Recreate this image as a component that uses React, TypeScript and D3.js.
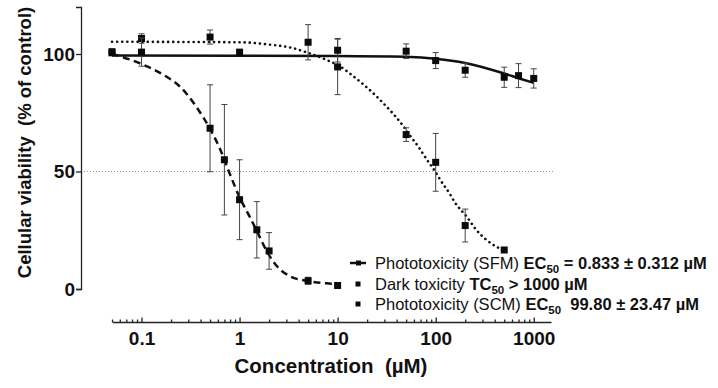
import { useEffect, useRef } from "react";
import * as d3 from "d3";

// measured points (mean ± SD)
const sfmConc = [0.05, 0.5, 0.7, 1, 1.5, 2, 5, 10];
const sfmMean = [101, 68.4, 55, 38, 25.2, 16.2, 3.5, 1.5];
const sfmSd = [0, 18.5, 23.5, 17, 12, 7.8, 1.5, 1];

const darkConc = [0.05, 0.1, 1, 10, 50, 100, 200, 500, 700, 1000];
const darkMean = [100.5, 100.8, 100.8, 101.6, 101.2, 97.2, 93.1, 90.1, 90.8, 89.6];
const darkSd = [0, 6, 0, 5, 3.1, 3.4, 3, 4.3, 5.1, 4.1];

const scmConc = [0.1, 0.5, 5, 10, 50, 100, 200, 500];
const scmMean = [106.6, 107.2, 105, 94.5, 65.7, 53.9, 27, 16.6];
const scmSd = [2, 3, 7.5, 11.8, 2.9, 12.3, 7, 0.5];

// fitted curves
const sfmFitConc = [0.05, 0.103, 0.165, 0.254, 0.36, 0.494, 0.625, 0.79, 1, 1.26, 1.54, 1.87, 2.37, 3.24, 4.79, 7.7, 10];
const sfmFitVal = [100.1, 95.5, 91.3, 85.6, 77.7, 68.5, 60, 49.3, 39, 31, 23.7, 16.5, 10, 5.5, 3.5, 2.4, 2.1];

const darkFitConc = [0.05, 1, 10, 50, 100, 200, 500, 700, 1000];
const darkFitVal = [99.4, 99.3, 99.2, 98.8, 98, 96.2, 91.7, 89.7, 87.7];

const scmFitConc = [0.05, 1, 2, 3.5, 5, 8.3, 10.5, 14.9, 19.6, 24.9, 30.9, 38.1, 46.4, 55.6, 67.3, 80.5, 96.4, 116, 138, 155, 207, 259, 330, 416, 500];
const scmFitVal = [105.2, 105, 104, 102.5, 100.5, 96.9, 94.8, 90.1, 86, 82, 78, 73.9, 69.5, 64.9, 60.3, 55.3, 50.7, 45.3, 40.8, 37.2, 30.8, 25.2, 20.9, 18, 16.6];

const xMajor = [0.1, 1, 10, 100, 1000];
const yTicks = [0, 50, 100];

const FONT = "'Liberation Sans', Arial, sans-serif";

export default function App() {
  const ref = useRef<SVGSVGElement>(null);

  useEffect(() => {
    const width = 718;
    const height = 388;
    const svg = d3.select(ref.current);
    svg.selectAll("*").remove();

    const x = d3.scaleLog().domain([0.05, 1500]).range([112, 551]);
    const y = d3.scaleLinear().domain([0, 120]).range([289, 7]);
    const yAxisX = 81;
    const xAxisY = 322;

    // 50% reference line
    svg.append("line")
      .attr("x1", yAxisX).attr("x2", 553)
      .attr("y1", y(50)).attr("y2", y(50))
      .attr("stroke", "#777").attr("stroke-width", 0.8)
      .attr("stroke-dasharray", "1 2");

    // y axis
    svg.append("g")
      .attr("transform", `translate(${yAxisX},0)`)
      .call(d3.axisLeft(y).tickValues(yTicks).tickSizeOuter(0).tickSize(5).tickPadding(1))
      .call(g => g.selectAll("line, path").attr("stroke", "#222").attr("stroke-width", 1.3))
      .call(g => g.selectAll("text")
        .attr("font-family", FONT).attr("font-size", 19).attr("font-weight", "bold").attr("fill", "#111"));

    // x axis: minor ticks
    const minor: number[] = [];
    for (let e = -2; e <= 3; e++) {
      for (let m = 1; m <= 9; m++) {
        const v = m * Math.pow(10, e);
        if (v >= 0.05 && v <= 1500 && m !== 1) minor.push(v);
      }
    }
    svg.append("g")
      .attr("transform", `translate(0,${xAxisY})`)
      .call(d3.axisBottom(x).tickValues(minor).tickSize(-2.5).tickSizeOuter(0).tickFormat(() => ""))
      .call(g => g.selectAll("line, path").attr("stroke", "#222").attr("stroke-width", 1.3));

    svg.append("g")
      .attr("transform", `translate(0,${xAxisY})`)
      .call(d3.axisBottom(x).tickValues(xMajor).tickSize(-4.5).tickSizeOuter(0).tickPadding(10)
        .tickFormat(d => String(d)))
      .call(g => g.select(".domain").remove())
      .call(g => g.selectAll("line").attr("stroke", "#222").attr("stroke-width", 1.3))
      .call(g => g.selectAll("text")
        .attr("font-family", FONT).attr("font-size", 19).attr("font-weight", "bold").attr("fill", "#111"));

    // axis titles
    svg.append("text")
      .attr("transform", `translate(30.5,${142.5}) rotate(-90)`)
      .attr("text-anchor", "middle")
      .attr("font-family", FONT).attr("font-size", 18.5).attr("font-weight", "bold").attr("fill", "#111")
      .attr("xml:space", "preserve")
      .text("Cellular viability  (% of control)");

    svg.append("text")
      .attr("x", 331).attr("y", 373)
      .attr("text-anchor", "middle")
      .attr("font-family", FONT).attr("font-size", 20.5).attr("font-weight", "bold").attr("fill", "#111")
      .attr("xml:space", "preserve")
      .text("Concentration  (\u00b5M)");

    // fitted curves
    const line = d3.line<[number, number]>()
      .x(d => x(d[0])).y(d => y(d[1]))
      .curve(d3.curveMonotoneX);

    const fits = [
      { c: darkFitConc, v: darkFitVal, dash: null as string | null, cap: "butt" },
      { c: scmFitConc, v: scmFitVal, dash: "0.1 5", cap: "round" },
      { c: sfmFitConc, v: sfmFitVal, dash: "7 4.5", cap: "butt" },
    ];
    fits.forEach(f => {
      svg.append("path")
        .attr("d", line(f.c.map((c, i) => [c, f.v[i]] as [number, number])))
        .attr("fill", "none")
        .attr("stroke", "#111")
        .attr("stroke-width", f.dash === "0.1 5" ? 2.6 : 2.5)
        .attr("stroke-linecap", f.cap)
        .attr("stroke-dasharray", f.dash);
    });

    // error bars and markers
    const series = [
      { c: scmConc, m: scmMean, s: scmSd },
      { c: darkConc, m: darkMean, s: darkSd },
      { c: sfmConc, m: sfmMean, s: sfmSd },
    ];
    series.forEach(ser => {
      const g = svg.append("g");
      ser.c.forEach((c, i) => {
        const cx = x(c);
        const m = ser.m[i];
        const s = ser.s[i];
        if (s > 0.6) {
          g.append("line").attr("x1", cx).attr("x2", cx).attr("y1", y(m + s)).attr("y2", y(m - s))
            .attr("stroke", "#444").attr("stroke-width", 1);
          [m + s, m - s].forEach(v => {
            g.append("line").attr("x1", cx - 3).attr("x2", cx + 3).attr("y1", y(v)).attr("y2", y(v))
              .attr("stroke", "#444").attr("stroke-width", 1);
          });
        }
        g.append("rect")
          .attr("x", cx - 3.5).attr("y", y(m) - 3.5)
          .attr("width", 7).attr("height", 7)
          .attr("fill", "#0a0a0a");
      });
    });

    // legend
    const legend = svg.append("g").attr("font-family", FONT).attr("font-size", 16.5).attr("fill", "#111");
    const rows = [
      { yy: 263, sym: "line", regular: "Phototoxicity (SFM) ", bold1: "EC", sub: "50", bold2: " = 0.833 \u00b1 0.312 \u00b5M" },
      { yy: 284, sym: "sq", regular: "Dark toxicity ", bold1: "TC", sub: "50", bold2: " > 1000 \u00b5M" },
      { yy: 304, sym: "sq", regular: "Phototoxicity (SCM) ", bold1: "EC", sub: "50", bold2: "  99.80 \u00b1 23.47 \u00b5M" },
    ];
    rows.forEach(r => {
      if (r.sym === "line") {
        legend.append("line").attr("x1", 350).attr("x2", 366).attr("y1", r.yy).attr("y2", r.yy)
          .attr("stroke", "#111").attr("stroke-width", 2.5);
        legend.append("rect").attr("x", 356).attr("y", r.yy - 2.5).attr("width", 5).attr("height", 5).attr("fill", "#0a0a0a");
      } else {
        legend.append("rect").attr("x", 355.5).attr("y", r.yy - 2.5).attr("width", 5).attr("height", 5).attr("fill", "#0a0a0a");
      }
      const t = legend.append("text").attr("x", 375).attr("y", r.yy + 5.5).attr("xml:space", "preserve");
      t.append("tspan").text(r.regular);
      t.append("tspan").attr("font-weight", "bold").text(r.bold1);
      t.append("tspan").attr("font-weight", "bold").attr("font-size", 11.5).attr("dy", 4).text(r.sub);
      t.append("tspan").attr("font-weight", "bold").attr("dy", -4).text(r.bold2);
    });

    svg.attr("width", width).attr("height", height);
  }, []);

  return (
    <svg
      ref={ref}
      width={718}
      height={388}
      viewBox="0 0 718 388"
      style={{ position: "absolute", left: 0, top: 0, background: "#fff" }}
    />
  );
}
